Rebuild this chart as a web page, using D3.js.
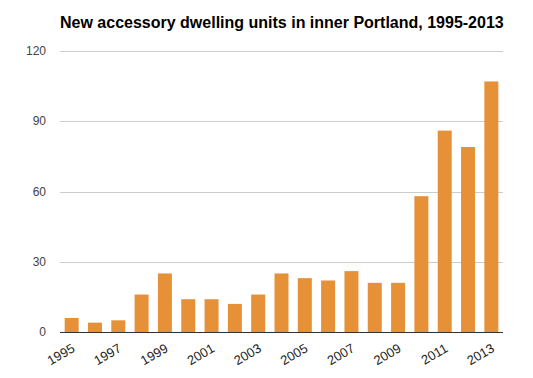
<!DOCTYPE html>
<html>
<head>
<meta charset="utf-8">
<script src="https://cdn.jsdelivr.net/npm/d3@7"></script>
<style>
  body { margin: 0; background: #fff; }
  text { font-family: Arial, "Liberation Sans", sans-serif; }
</style>
</head>
<body>
<svg id="chart" width="533" height="378"></svg>
<script>
// data
const years = ["1995","1996","1997","1998","1999","2000","2001","2002","2003","2004",
               "2005","2006","2007","2008","2009","2010","2011","2012","2013"];
const units = [6, 4, 5, 16, 25, 14, 14, 12, 16, 25, 23, 22, 26, 21, 21, 58, 86, 79, 107];
const yTicks = [0, 30, 60, 90, 120];
const xLabels = ["1995","1997","1999","2001","2003","2005","2007","2009","2011","2013"];

const svg = d3.select("#chart");
const margin = { left: 60, right: 30, top: 51, bottom: 46 };
const width = 533 - margin.left - margin.right;
const height = 378 - margin.top - margin.bottom;

svg.append("text")
  .attr("x", 60)
  .attr("y", 28)
  .style("font-size", "16px")
  .style("font-weight", "bold")
  .attr("fill", "#000")
  .text("New accessory dwelling units in inner Portland, 1995-2013");

const g = svg.append("g").attr("transform", `translate(${margin.left},${margin.top})`);

const x = d3.scaleBand().domain(years).range([0, width]).paddingInner(0.4).paddingOuter(0.2);
const y = d3.scaleLinear().domain([0, 120]).range([height, 0]);

// gridlines + y labels
g.selectAll(".grid")
  .data(yTicks.filter(d => d > 0))
  .join("line")
  .attr("x1", 0).attr("x2", width)
  .attr("y1", d => Math.round(y(d)) + 0.5).attr("y2", d => Math.round(y(d)) + 0.5)
  .attr("stroke", "#cccccc");

g.selectAll(".ylab")
  .data(yTicks)
  .join("text")
  .attr("x", -14)
  .attr("y", d => y(d))
  .attr("dy", "0.35em")
  .attr("text-anchor", "end")
  .style("font-size", "12px")
  .attr("fill", "#444")
  .text(d => d);

g.selectAll("rect")
  .data(units)
  .join("rect")
  .attr("x", (d, i) => x(years[i]))
  .attr("y", d => y(d))
  .attr("width", x.bandwidth())
  .attr("height", d => height - y(d))
  .attr("fill", "#e69138");

g.append("line")
  .attr("x1", 0).attr("x2", width)
  .attr("y1", height + 0.5).attr("y2", height + 0.5)
  .attr("stroke", "#333");

g.selectAll(".xlab")
  .data(xLabels)
  .join("text")
  .attr("transform", d => `translate(${x(d) + x.bandwidth() / 2 + 4},${height + 19}) rotate(-30)`)
  .attr("text-anchor", "end")
  .style("font-size", "13px")
  .attr("fill", "#222")
  .text(d => d);
</script>
</body>
</html>
